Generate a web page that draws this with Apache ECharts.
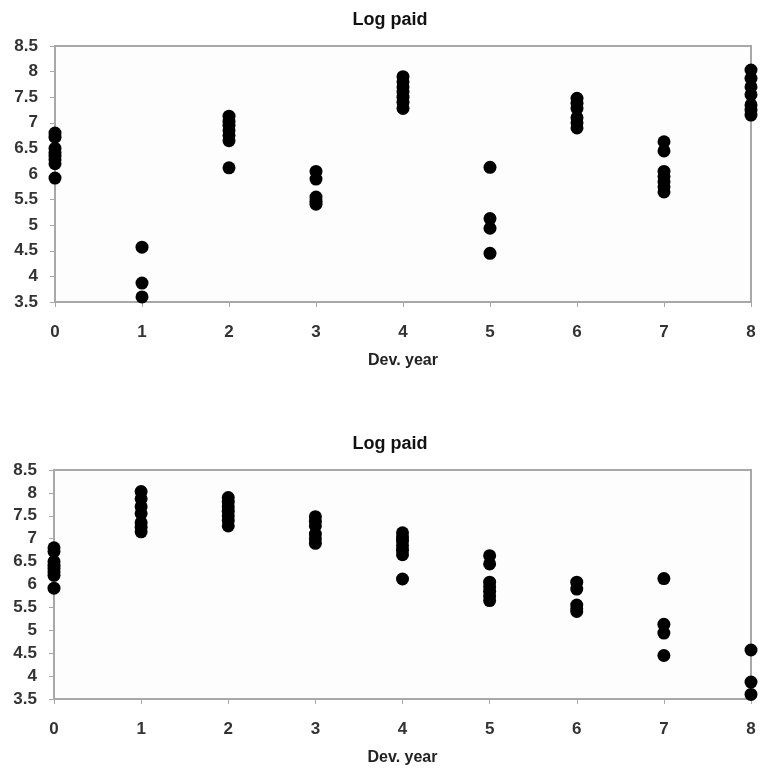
<!DOCTYPE html>
<html>
<head>
<meta charset="utf-8">
<script src="https://cdn.jsdelivr.net/npm/echarts@6/dist/echarts.min.js"></script>
<style>
html,body{margin:0;padding:0;background:#fff;}
#c{width:760px;height:774px;}
</style>
</head>
<body>
<div id="c"></div>
<script>
// Tick labels / axis ranges
var devYears = [0, 1, 2, 3, 4, 5, 6, 7, 8];
var yTicks = [3.5, 4, 4.5, 5, 5.5, 6, 6.5, 7, 7.5, 8, 8.5];

// Top chart: log paid values per development year column
var top0 = [6.80, 6.72, 6.50, 6.42, 6.35, 6.28, 6.20, 5.92];
var top1 = [4.57, 3.87, 3.60];
var top2 = [7.13, 7.03, 6.95, 6.85, 6.75, 6.65, 6.12];
var top3 = [6.05, 5.90, 5.55, 5.47, 5.41];
var top4 = [7.90, 7.80, 7.70, 7.60, 7.50, 7.40, 7.28];
var top5 = [6.13, 5.13, 4.94, 4.45];
var top6 = [7.48, 7.38, 7.28, 7.10, 7.00, 6.90];
var top7 = [6.63, 6.45, 6.05, 5.95, 5.85, 5.75, 5.65];
var top8 = [8.03, 7.87, 7.70, 7.55, 7.35, 7.25, 7.15];

// Bottom chart: log paid values per development year column
var bot0 = [6.80, 6.72, 6.50, 6.42, 6.35, 6.28, 6.20, 5.92];
var bot1 = [8.03, 7.87, 7.70, 7.55, 7.35, 7.25, 7.15];
var bot2 = [7.90, 7.80, 7.70, 7.60, 7.50, 7.40, 7.28];
var bot3 = [7.48, 7.38, 7.28, 7.10, 7.00, 6.90];
var bot4 = [7.13, 7.03, 6.95, 6.85, 6.75, 6.65, 6.12];
var bot5 = [6.63, 6.45, 6.05, 5.95, 5.85, 5.75, 5.65];
var bot6 = [6.05, 5.90, 5.55, 5.47, 5.41];
var bot7 = [6.13, 5.13, 4.94, 4.45];
var bot8 = [4.57, 3.87, 3.60];

var topCols = [top0, top1, top2, top3, top4, top5, top6, top7, top8];
var botCols = [bot0, bot1, bot2, bot3, bot4, bot5, bot6, bot7, bot8];

function toPairs(cols) {
  var out = [];
  cols.forEach(function (col, i) {
    col.forEach(function (v) { out.push([devYears[i], v]); });
  });
  return out;
}

var labelFont = {fontFamily: 'Liberation Sans, Arial, sans-serif', fontSize: 17, fontWeight: 'bold', color: '#333'};
var axisColor = '#a8a8a8';

function xAxisCfg(gi) {
  return {
    gridIndex: gi, type: 'value', min: devYears[0], max: devYears[devYears.length - 1], interval: 1,
    name: 'Dev. year', nameLocation: 'middle', nameGap: 51,
    nameTextStyle: {fontFamily: 'Liberation Sans, Arial, sans-serif', fontSize: 16, fontWeight: 'bold', color: '#222'},
    axisLine: {show: true, lineStyle: {color: axisColor, width: 2}},
    axisTick: {show: true, inside: false, length: 5, lineStyle: {color: axisColor}},
    axisLabel: Object.assign({margin: 22}, labelFont),
    splitLine: {show: false}
  };
}
function yAxisCfg(gi) {
  return {
    gridIndex: gi, type: 'value', min: yTicks[0], max: yTicks[yTicks.length - 1], interval: 0.5,
    axisLine: {show: true, lineStyle: {color: axisColor, width: 2}},
    axisTick: {show: true, inside: false, length: 5, lineStyle: {color: axisColor}},
    axisLabel: Object.assign({margin: 17}, labelFont),
    splitLine: {show: false}
  };
}

var chart = echarts.init(document.getElementById('c'), null, {renderer: 'canvas'});
chart.setOption({
  animation: false,
  backgroundColor: '#fff',
  title: [
    {text: 'Log paid', left: 385, top: 6, textAlign: 'center',
     textStyle: {fontFamily: 'Liberation Sans, Arial, sans-serif', fontSize: 18, fontWeight: 'bold', color: '#111'}},
    {text: 'Log paid', left: 385, top: 430, textAlign: 'center',
     textStyle: {fontFamily: 'Liberation Sans, Arial, sans-serif', fontSize: 18, fontWeight: 'bold', color: '#111'}}
  ],
  grid: [
    {left: 55, right: 9, top: 46, height: 256, show: true, borderColor: axisColor, borderWidth: 2, backgroundColor: '#fdfdfd'},
    {left: 54, right: 9, top: 470, height: 229, show: true, borderColor: axisColor, borderWidth: 2, backgroundColor: '#fdfdfd'}
  ],
  xAxis: [xAxisCfg(0), xAxisCfg(1)],
  yAxis: [yAxisCfg(0), yAxisCfg(1)],
  series: [
    {type: 'scatter', xAxisIndex: 0, yAxisIndex: 0, data: toPairs(topCols), symbolSize: 13,
     itemStyle: {color: '#000', opacity: 1}, clip: false},
    {type: 'scatter', xAxisIndex: 1, yAxisIndex: 1, data: toPairs(botCols), symbolSize: 13,
     itemStyle: {color: '#000', opacity: 1}, clip: false}
  ]
});
</script>
</body>
</html>
